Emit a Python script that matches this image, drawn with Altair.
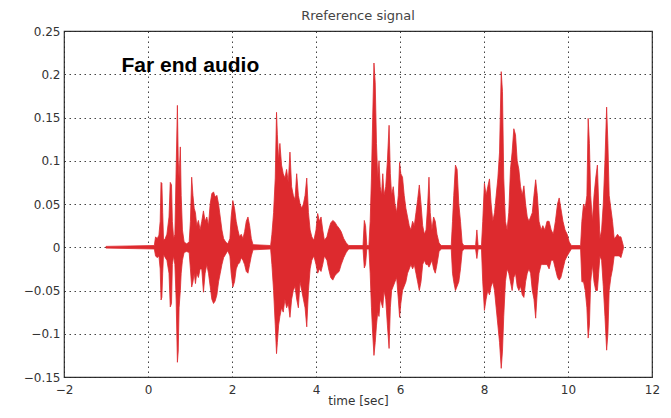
import altair as alt
import pandas as pd

# Envelope of the far-end audio signal
time_s = [
    -1.00, 0.15, 0.18, 0.22, 0.26, 0.29, 0.31, 0.33, 0.35, 0.37, 0.41, 0.45, 0.50, 0.53, 0.56, 0.58,
    0.61, 0.64, 0.67, 0.70, 0.72, 0.74, 0.77, 0.79, 0.82, 0.86, 0.92, 0.98,
    1.01, 1.04, 1.07, 1.10, 1.13, 1.16, 1.20, 1.24, 1.28, 1.32, 1.36, 1.40, 1.44, 1.48, 1.52, 1.56,
    1.60, 1.64, 1.68, 1.72, 1.76, 1.80, 1.85, 1.90,
    1.95, 1.98, 2.02, 2.06, 2.10, 2.14, 2.18, 2.22, 2.26, 2.30, 2.34, 2.38, 2.42, 2.46, 2.50, 2.92,
    2.95, 2.99, 3.03, 3.06, 3.08, 3.11, 3.14, 3.18, 3.22, 3.26, 3.30, 3.34, 3.38, 3.42, 3.46, 3.50,
    3.54, 3.58, 3.62, 3.66, 3.70, 3.74, 3.78, 3.82, 3.86, 3.90, 3.95, 4.00, 4.04, 4.08, 4.12, 4.16,
    4.20, 4.26, 4.30, 4.35, 4.40, 4.45, 4.50, 4.55, 4.60, 4.66, 4.72, 4.78,
    5.12, 5.15, 5.18, 5.21, 5.26,
    5.29, 5.32, 5.35, 5.38, 5.41, 5.44, 5.47, 5.50, 5.53, 5.56, 5.59, 5.62, 5.66, 5.70, 5.74, 5.77,
    5.80, 5.84, 5.88, 5.92, 5.96, 5.99, 6.02, 6.06, 6.10, 6.14, 6.18, 6.22, 6.26, 6.30, 6.34, 6.38,
    6.42, 6.46, 6.50, 6.54, 6.58, 6.62, 6.66, 6.69, 6.72, 6.76, 6.80, 6.84, 6.88, 6.93, 6.98,
    7.22, 7.25, 7.28, 7.32, 7.36, 7.40, 7.44, 7.48, 7.52,
    7.80, 7.83, 7.86, 7.94,
    7.97, 8.01, 8.05, 8.09, 8.13, 8.17, 8.21, 8.25, 8.29, 8.33, 8.37, 8.41, 8.44, 8.47, 8.51, 8.55,
    8.59, 8.63, 8.67, 8.71, 8.75, 8.79, 8.83, 8.87, 8.91, 8.95, 8.99, 9.03, 9.07, 9.11, 9.15, 9.19,
    9.23, 9.27, 9.31, 9.36, 9.40, 9.45, 9.50, 9.55, 9.60, 9.65, 9.70, 9.75, 9.79, 9.83, 9.88, 9.93,
    9.98, 10.03, 10.08,
    10.30, 10.33, 10.37, 10.41, 10.45, 10.48, 10.51, 10.54, 10.58, 10.62, 10.66, 10.70, 10.73, 10.76,
    10.80, 10.84, 10.88, 10.92, 10.95, 10.98, 11.02, 11.06, 11.10, 11.14, 11.18, 11.22, 11.26, 11.30,
    11.32,
]

upper = [
    0.001, 0.002, 0.012, 0.010, 0.014, 0.030, 0.075, 0.074, 0.040, 0.008, 0.010, 0.015, 0.035, 0.075, 0.072, 0.030,
    0.010, 0.015, 0.090, 0.164, 0.100, 0.080, 0.116, 0.060, 0.020, 0.006, 0.004, 0.006,
    0.030, 0.081, 0.060, 0.045, 0.040, 0.025, 0.031, 0.020, 0.030, 0.042, 0.030, 0.035, 0.025, 0.050, 0.062, 0.064,
    0.058, 0.060, 0.050, 0.035, 0.020, 0.010, 0.006, 0.004,
    0.010, 0.035, 0.054, 0.045, 0.030, 0.020, 0.012, 0.015, 0.010, 0.018, 0.030, 0.035, 0.025, 0.010, 0.003, 0.002,
    0.015, 0.040, 0.080, 0.156, 0.130, 0.100, 0.120, 0.095, 0.085, 0.080, 0.090, 0.075, 0.110, 0.070, 0.060, 0.055,
    0.085, 0.060, 0.050, 0.045, 0.050, 0.060, 0.080, 0.040, 0.020, 0.012, 0.008, 0.020, 0.039, 0.030, 0.035, 0.020,
    0.008, 0.012, 0.020, 0.028, 0.031, 0.029, 0.025, 0.022, 0.018, 0.010, 0.005, 0.002,
    0.002, 0.031, 0.025, 0.002, 0.002,
    0.030, 0.080, 0.150, 0.213, 0.190, 0.120, 0.080, 0.100, 0.070, 0.060, 0.085, 0.060, 0.070, 0.100, 0.141, 0.085,
    0.060, 0.070, 0.050, 0.040, 0.060, 0.098, 0.085, 0.081, 0.060, 0.045, 0.035, 0.025, 0.020, 0.030, 0.025, 0.040,
    0.055, 0.072, 0.050, 0.025, 0.015, 0.020, 0.050, 0.081, 0.040, 0.020, 0.035, 0.030, 0.015, 0.005, 0.002,
    0.002, 0.030, 0.060, 0.095, 0.090, 0.050, 0.030, 0.005, 0.002,
    0.002, 0.020, 0.002, 0.002,
    0.030, 0.074, 0.060, 0.070, 0.079, 0.050, 0.030, 0.040, 0.060, 0.080, 0.110, 0.203, 0.180, 0.080, 0.030, 0.020,
    0.040, 0.090, 0.110, 0.137, 0.130, 0.100, 0.090, 0.070, 0.060, 0.071, 0.050, 0.035, 0.030, 0.035, 0.040, 0.060,
    0.078, 0.060, 0.030, 0.020, 0.025, 0.020, 0.030, 0.030, 0.020, 0.015, 0.030, 0.050, 0.057, 0.045, 0.030, 0.020,
    0.015, 0.006, 0.002,
    0.002, 0.030, 0.050, 0.045, 0.060, 0.149, 0.120, 0.060, 0.030, 0.060, 0.080, 0.095, 0.050, 0.010,
    0.020, 0.050, 0.100, 0.162, 0.120, 0.060, 0.045, 0.030, 0.010, 0.012, 0.015, 0.012, 0.012, 0.005,
    0.001,
]

lower = [
    -0.001, -0.002, -0.010, -0.012, -0.010, -0.025, -0.061, -0.058, -0.030, -0.008, -0.012, -0.015, -0.030, -0.069, -0.065, -0.020,
    -0.010, -0.020, -0.060, -0.133, -0.120, -0.070, -0.050, -0.030, -0.015, -0.006, -0.005, -0.006,
    -0.025, -0.046, -0.040, -0.030, -0.042, -0.030, -0.035, -0.025, -0.025, -0.052, -0.030, -0.020, -0.030, -0.045, -0.060, -0.065,
    -0.062, -0.055, -0.040, -0.030, -0.020, -0.012, -0.008, -0.004,
    -0.010, -0.030, -0.046, -0.040, -0.025, -0.020, -0.018, -0.012, -0.015, -0.020, -0.028, -0.030, -0.020, -0.010, -0.003, -0.002,
    -0.020, -0.050, -0.090, -0.123, -0.110, -0.090, -0.080, -0.070, -0.075, -0.060, -0.070, -0.065, -0.081, -0.060, -0.050, -0.045,
    -0.060, -0.070, -0.040, -0.050, -0.060, -0.070, -0.092, -0.050, -0.025, -0.015, -0.010, -0.020, -0.030, -0.025, -0.028, -0.020,
    -0.010, -0.015, -0.025, -0.035, -0.038, -0.033, -0.030, -0.028, -0.020, -0.012, -0.006, -0.002,
    -0.002, -0.024, -0.020, -0.002, -0.002,
    -0.030, -0.070, -0.100, -0.125, -0.110, -0.090, -0.075, -0.080, -0.060, -0.065, -0.070, -0.050, -0.060, -0.090, -0.117, -0.070,
    -0.050, -0.045, -0.040, -0.035, -0.060, -0.081, -0.065, -0.050, -0.045, -0.040, -0.030, -0.025, -0.020, -0.025, -0.020, -0.030,
    -0.040, -0.050, -0.040, -0.020, -0.015, -0.020, -0.020, -0.023, -0.020, -0.015, -0.025, -0.030, -0.020, -0.005, -0.002,
    -0.002, -0.030, -0.040, -0.050, -0.045, -0.040, -0.025, -0.005, -0.002,
    -0.002, -0.013, -0.002, -0.002,
    -0.040, -0.073, -0.060, -0.050, -0.055, -0.045, -0.040, -0.050, -0.070, -0.090, -0.110, -0.140, -0.120, -0.080, -0.040, -0.025,
    -0.030, -0.040, -0.050, -0.035, -0.030, -0.045, -0.050, -0.045, -0.055, -0.058, -0.040, -0.030, -0.025, -0.030, -0.050, -0.060,
    -0.082, -0.050, -0.030, -0.020, -0.020, -0.020, -0.020, -0.025, -0.015, -0.015, -0.025, -0.035, -0.038, -0.035, -0.025, -0.015,
    -0.010, -0.006, -0.002,
    -0.002, -0.040, -0.040, -0.050, -0.070, -0.105, -0.090, -0.040, -0.020, -0.040, -0.050, -0.050, -0.030, -0.010,
    -0.015, -0.045, -0.080, -0.119, -0.100, -0.050, -0.035, -0.025, -0.010, -0.010, -0.010, -0.010, -0.012, -0.005,
    -0.001,
]

x_ticks = [-2, 0, 2, 4, 6, 8, 10, 12]
y_ticks = [-0.15, -0.1, -0.05, 0, 0.05, 0.1, 0.15, 0.2, 0.25]

annotation_text = ["Far end audio"]
annotation_x = [-0.63]
annotation_y = [0.2027]

df = pd.DataFrame({"t": time_s, "hi": upper, "lo": lower})
ann = pd.DataFrame({"t": annotation_x, "v": annotation_y, "label": annotation_text})

RED = "#dd2a2e"
FONT = "DejaVu Sans"

x_enc = alt.X(
    "t:Q",
    scale=alt.Scale(domain=[-2, 12], nice=False, zero=False),
    axis=alt.Axis(
        values=x_ticks, title="time [sec]", grid=True, domain=False, ticks=False,
        labelFlush=False, labelPadding=7, titlePadding=0, labelFontSize=12,
        labelExpr="format(datum.value, '~g')",
    ),
)

wave = alt.Chart(df).mark_area(
    color=RED, stroke=RED, strokeWidth=0.8, opacity=1, interpolate="linear"
).encode(
    x=x_enc,
    y=alt.Y(
        "hi:Q",
        scale=alt.Scale(domain=[-0.15, 0.25], nice=False, zero=False),
        axis=alt.Axis(
            values=y_ticks, title=None, grid=True, domain=False, ticks=False,
            labelPadding=4, labelFontSize=12, labelExpr="format(datum.value, '~g')",
        ),
    ),
    y2="lo:Q",
)

text = alt.Chart(ann).mark_text(
    font="Liberation Sans", fontSize=21, fontWeight="bold", color="black",
    align="left", baseline="alphabetic",
).encode(
    x=alt.X("t:Q"),
    y=alt.Y("v:Q"),
    text="label:N",
)

chart = alt.layer(wave, text).properties(
    width=588,
    height=346,
    title=alt.TitleParams(
        "Rreference signal", fontSize=13, fontWeight="normal", color="#444",
        font=FONT, anchor="middle", offset=2,
    ),
    autosize=alt.AutoSizeParams(type="none"),
    padding={"left": 56, "top": 23, "right": 11, "bottom": 33},
).configure_view(
    stroke="#333", strokeWidth=1.2
).configure_axis(
    gridColor="#222", gridDash=[1.5, 3.5], gridWidth=1, gridOpacity=0.85,
    labelFont=FONT, labelColor="#333",
    titleFont=FONT, titleFontSize=12, titleColor="#333", titleFontWeight="normal",
)

chart.save("out.html", embed_options={"renderer": "svg", "actions": False})
